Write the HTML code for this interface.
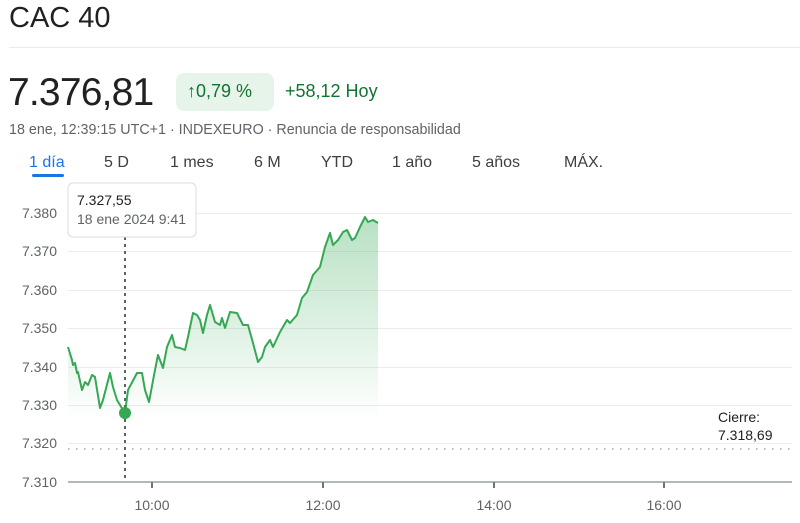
<!DOCTYPE html>
<html><head><meta charset="utf-8"><style>
body{margin:0;width:800px;height:523px;background:#fff;font-family:"Liberation Sans",Arial,sans-serif;overflow:hidden;position:relative}
.a{position:absolute;white-space:nowrap}
</style></head><body>
<div class="a" style="left:9px;top:2px;font-size:29px;color:#202124">CAC 40</div>
<div class="a" style="left:9px;top:47px;width:791px;height:1px;background:#e8eaed"></div>
<div class="a" style="left:8px;top:71px;font-size:39px;color:#202124;letter-spacing:-0.8px">7.376,81</div>
<div class="a" style="left:176px;top:73px;width:98px;height:38px;border-radius:8px;background:#e6f4ea"></div>
<div class="a" style="left:187px;top:81px;font-size:18px;color:#137333">↑0,79 %</div>
<div class="a" style="left:285px;top:81px;font-size:18px;color:#137333">+58,12 Hoy</div>
<div class="a" style="left:9px;top:122px;font-size:14.3px;color:#5f6368">18 ene, 12:39:15 UTC+1 · INDEXEURO · Renuncia de responsabilidad</div>
<div class="a" style="left:29px;top:154px;font-size:16px;color:#1a73e8">1 día</div>
<div class="a" style="left:32px;top:174px;width:32px;height:3px;border-radius:2px;background:#1a73e8"></div>
<div class="a" style="left:104px;top:154px;font-size:16px;color:#3c4043">5 D</div>
<div class="a" style="left:170px;top:154px;font-size:16px;color:#3c4043">1 mes</div>
<div class="a" style="left:254px;top:154px;font-size:16px;color:#3c4043">6 M</div>
<div class="a" style="left:321px;top:154px;font-size:16px;color:#3c4043">YTD</div>
<div class="a" style="left:392px;top:154px;font-size:16px;color:#3c4043">1 año</div>
<div class="a" style="left:472px;top:154px;font-size:16px;color:#3c4043">5 años</div>
<div class="a" style="left:564px;top:154px;font-size:16px;color:#3c4043">MÁX.</div>
<svg class="a" style="left:0;top:0" width="800" height="523">
<defs><linearGradient id="g" x1="0" y1="0" x2="0" y2="1"><stop offset="0" stop-color="#34a853" stop-opacity="0.35"/><stop offset="1" stop-color="#34a853" stop-opacity="0"/></linearGradient></defs>
<g stroke="#ececec" stroke-width="1">
<line x1="68" y1="213.5" x2="792" y2="213.5"/><line x1="68" y1="251.5" x2="792" y2="251.5"/><line x1="68" y1="290.5" x2="792" y2="290.5"/><line x1="68" y1="328.5" x2="792" y2="328.5"/><line x1="68" y1="367.5" x2="792" y2="367.5"/><line x1="68" y1="405.5" x2="792" y2="405.5"/><line x1="68" y1="443.5" x2="792" y2="443.5"/>
</g>
<line x1="68" y1="482" x2="792" y2="482" stroke="#9aa0a6" stroke-width="1.5"/>
<g stroke="#70757a" stroke-width="2"><line x1="152" y1="482" x2="152" y2="488"/><line x1="323" y1="482" x2="323" y2="488"/><line x1="494" y1="482" x2="494" y2="488"/><line x1="664" y1="482" x2="664" y2="488"/></g>
<line x1="68" y1="449" x2="792" y2="449" stroke="#9aa0a6" stroke-width="1.5" stroke-dasharray="1.5,6.5"/>
<g font-size="14" fill="#5f6368" text-anchor="end">
<text x="57" y="218">7.380</text><text x="57" y="256">7.370</text><text x="57" y="295">7.360</text><text x="57" y="333">7.350</text><text x="57" y="372">7.340</text><text x="57" y="410">7.330</text><text x="57" y="448">7.320</text><text x="57" y="487">7.310</text>
</g>
<g font-size="14" fill="#5f6368" text-anchor="middle">
<text x="152" y="510">10:00</text><text x="323" y="510">12:00</text><text x="494" y="510">14:00</text><text x="664" y="510">16:00</text>
</g>
<text x="718" y="422" font-size="14" fill="#202124">Cierre:</text>
<text x="718" y="440" font-size="14" fill="#202124">7.318,69</text>
<path d="M68,347 L72,360 73,365 75,363 77,373 78,372 82,390 85,382 88,385 92,375 95,377 100,408 103,400 110,373 113,387 117,400 120,405 125,413 128,390 137,373 142,373 145,390 149,402 155,370 158,355 163,368 167,347 172,335 175,347 180,348 185,350 188,337 193,313 197,315 200,320 203,333 207,315 210,305 215,322 220,325 222,318 225,328 230,312 237,313 243,325 248,325 253,343 258,362 262,357 265,347 270,340 273,347 280,332 287,320 290,323 297,315 302,298 307,292 313,275 320,267 325,247 330,233 333,245 338,240 343,232 347,230 352,240 355,238 360,227 365,217 368,222 373,220 378,223 L378,420 L68,420 Z" fill="url(#g)"/>
<path d="M68,347 L72,360 73,365 75,363 77,373 78,372 82,390 85,382 88,385 92,375 95,377 100,408 103,400 110,373 113,387 117,400 120,405 125,413 128,390 137,373 142,373 145,390 149,402 155,370 158,355 163,368 167,347 172,335 175,347 180,348 185,350 188,337 193,313 197,315 200,320 203,333 207,315 210,305 215,322 220,325 222,318 225,328 230,312 237,313 243,325 248,325 253,343 258,362 262,357 265,347 270,340 273,347 280,332 287,320 290,323 297,315 302,298 307,292 313,275 320,267 325,247 330,233 333,245 338,240 343,232 347,230 352,240 355,238 360,227 365,217 368,222 373,220 378,223" fill="none" stroke="#34a853" stroke-width="2" stroke-linejoin="round"/>
<line x1="125" y1="237" x2="125" y2="482" stroke="#5f6368" stroke-width="2" stroke-dasharray="3,4"/>
<circle cx="125" cy="413" r="6" fill="#34a853"/>
<rect x="68" y="183" width="128" height="54" rx="5" fill="#fff" stroke="#dadce0" stroke-width="1"/>
<text x="77" y="205" font-size="14" fill="#202124">7.327,55</text>
<text x="77" y="224" font-size="14" fill="#5f6368">18 ene 2024 9:41</text>
</svg>
</body></html>
